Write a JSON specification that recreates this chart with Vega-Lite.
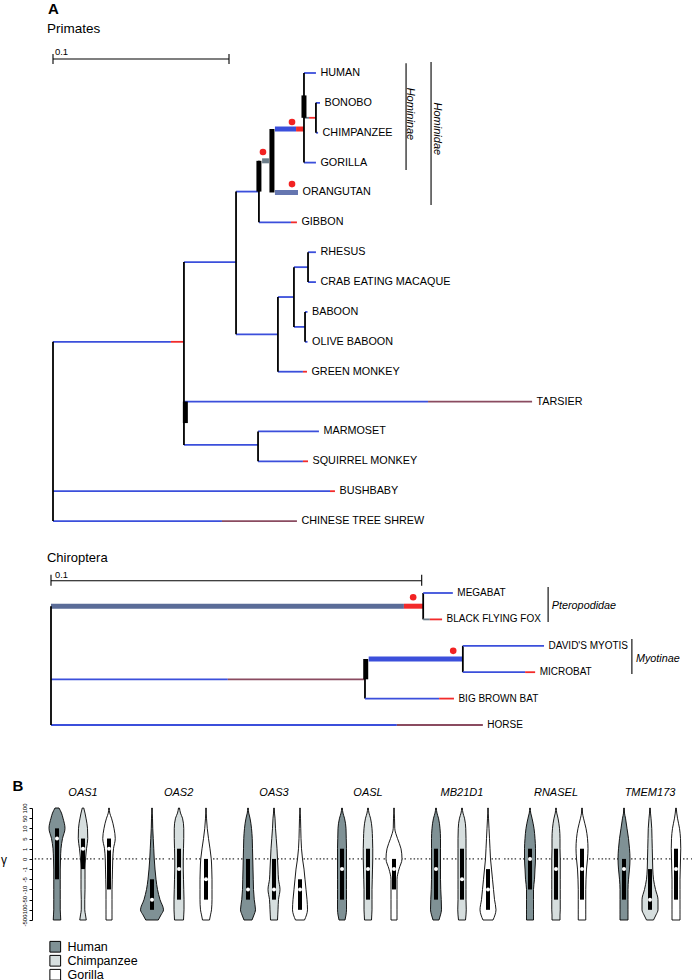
{
"$schema":"https://vega.github.io/schema/vega-lite/v6.json",
"padding":0,
"spacing":19,
"datasets":{
"prim":[
{"k":"s","x":0,"x2":0.067,"y":9,"y2":9,"cat":"purifying","w":"normal"},
{"k":"s","x":0.067,"x2":0.0744,"y":9,"y2":9,"cat":"positive","w":"normal"},
{"k":"s","x":0.0744,"x2":0.104,"y":6.33,"y2":6.33,"cat":"purifying","w":"normal"},
{"k":"s","x":0.0744,"x2":0.2131,"y":11,"y2":11,"cat":"purifying","w":"normal"},
{"k":"s","x":0.2131,"x2":0.2722,"y":11,"y2":11,"cat":"relaxed","w":"normal"},
{"k":"s","x":0.0744,"x2":0.1165,"y":12.45,"y2":12.45,"cat":"purifying","w":"normal"},
{"k":"s","x":0.1165,"x2":0.1511,"y":12,"y2":12,"cat":"purifying","w":"normal"},
{"k":"s","x":0.1165,"x2":0.142,"y":13,"y2":13,"cat":"purifying","w":"normal"},
{"k":"s","x":0.142,"x2":0.1449,"y":13,"y2":13,"cat":"positive","w":"normal"},
{"k":"s","x":0,"x2":0.1574,"y":14,"y2":14,"cat":"purifying","w":"normal"},
{"k":"s","x":0.1574,"x2":0.1602,"y":14,"y2":14,"cat":"positive","w":"normal"},
{"k":"s","x":0,"x2":0.096,"y":15,"y2":15,"cat":"purifying","w":"normal"},
{"k":"s","x":0.096,"x2":0.1386,"y":15,"y2":15,"cat":"relaxed","w":"normal"},
{"k":"s","x":0.104,"x2":0.1278,"y":8.75,"y2":8.75,"cat":"purifying","w":"normal"},
{"k":"s","x":0.1278,"x2":0.142,"y":10,"y2":10,"cat":"purifying","w":"normal"},
{"k":"s","x":0.142,"x2":0.1443,"y":10,"y2":10,"cat":"positive","w":"normal"},
{"k":"s","x":0.1278,"x2":0.1369,"y":7.5,"y2":7.5,"cat":"purifying","w":"normal"},
{"k":"s","x":0.1369,"x2":0.1449,"y":6.5,"y2":6.5,"cat":"purifying","w":"normal"},
{"k":"s","x":0.1449,"x2":0.1494,"y":6,"y2":6,"cat":"purifying","w":"normal"},
{"k":"s","x":0.1449,"x2":0.1494,"y":7,"y2":7,"cat":"purifying","w":"normal"},
{"k":"s","x":0.1369,"x2":0.1432,"y":8.5,"y2":8.5,"cat":"purifying","w":"normal"},
{"k":"s","x":0.1432,"x2":0.1446,"y":8,"y2":8,"cat":"purifying","w":"normal"},
{"k":"s","x":0.1432,"x2":0.1446,"y":9,"y2":9,"cat":"purifying","w":"normal"},
{"k":"s","x":0.104,"x2":0.117,"y":3.97,"y2":3.97,"cat":"purifying","w":"normal"},
{"k":"s","x":0.117,"x2":0.1352,"y":5,"y2":5,"cat":"purifying","w":"normal"},
{"k":"s","x":0.1352,"x2":0.1386,"y":5,"y2":5,"cat":"positive","w":"normal"},
{"k":"s","x":0.1188,"x2":0.1227,"y":2.94,"y2":2.94,"cat":"intermediate","w":"bold"},
{"k":"s","x":0.1261,"x2":0.1381,"y":1.875,"y2":1.875,"cat":"purifying","w":"bold"},
{"k":"s","x":0.1381,"x2":0.1426,"y":1.875,"y2":1.875,"cat":"positive","w":"bold"},
{"k":"s","x":0.1261,"x2":0.1392,"y":4,"y2":4,"cat":"moderate","w":"bold"},
{"k":"s","x":0.1426,"x2":0.1494,"y":0,"y2":0,"cat":"purifying","w":"normal"},
{"k":"s","x":0.1426,"x2":0.1455,"y":1.5,"y2":1.5,"cat":"intermediate","w":"normal"},
{"k":"s","x":0.1455,"x2":0.1494,"y":1.5,"y2":1.5,"cat":"positive","w":"normal"},
{"k":"s","x":0.1494,"x2":0.1517,"y":1,"y2":1,"cat":"purifying","w":"normal"},
{"k":"s","x":0.1494,"x2":0.1506,"y":2,"y2":2,"cat":"purifying","w":"normal"},
{"k":"s","x":0.1426,"x2":0.1494,"y":3,"y2":3,"cat":"purifying","w":"normal"},
{"k":"s","x":0,"x2":0,"y":9,"y2":15,"cat":"node","w":"normal"},
{"k":"s","x":0.0744,"x2":0.0744,"y":6.33,"y2":12.45,"cat":"node","w":"normal"},
{"k":"s","x":0.0752,"x2":0.0752,"y":11,"y2":11.72,"cat":"node","w":"bold"},
{"k":"s","x":0.104,"x2":0.104,"y":3.97,"y2":8.75,"cat":"node","w":"normal"},
{"k":"s","x":0.1165,"x2":0.1165,"y":12,"y2":13,"cat":"node","w":"normal"},
{"k":"s","x":0.1278,"x2":0.1278,"y":7.5,"y2":10,"cat":"node","w":"normal"},
{"k":"s","x":0.1369,"x2":0.1369,"y":6.5,"y2":8.5,"cat":"node","w":"normal"},
{"k":"s","x":0.1449,"x2":0.1449,"y":6,"y2":7,"cat":"node","w":"normal"},
{"k":"s","x":0.1432,"x2":0.1432,"y":8,"y2":9,"cat":"node","w":"normal"},
{"k":"s","x":0.117,"x2":0.117,"y":2.94,"y2":5,"cat":"node","w":"normal"},
{"k":"s","x":0.117,"x2":0.117,"y":2.94,"y2":3.97,"cat":"node","w":"bold"},
{"k":"s","x":0.1244,"x2":0.1244,"y":1.875,"y2":4,"cat":"node","w":"bold"},
{"k":"s","x":0.1426,"x2":0.1426,"y":0,"y2":3,"cat":"node","w":"normal"},
{"k":"s","x":0.1426,"x2":0.1426,"y":0.75,"y2":1.5,"cat":"node","w":"bold"},
{"k":"s","x":0.1494,"x2":0.1494,"y":1,"y2":2,"cat":"node","w":"normal"},
{"k":"b","x":0.2006,"x2":0.2006,"y":-0.33,"y2":3.25},
{"k":"b","x":0.2148,"x2":0.2148,"y":-0.37,"y2":4.42},
{"k":"b","x":0,"x2":0.1,"y":-0.469,"y2":-0.469},
{"k":"b","x":0,"x2":0,"y":-0.64,"y2":-0.3},
{"k":"b","x":0.1,"x2":0.1,"y":-0.64,"y2":-0.3},
{"k":"d","x":0.1193,"y":2.645},
{"k":"d","x":0.1358,"y":1.64},
{"k":"d","x":0.1358,"y":3.72},
{"k":"t","x":0.1494,"y":0,"label":"HUMAN"},
{"k":"t","x":0.1517,"y":1,"label":"BONOBO"},
{"k":"t","x":0.1506,"y":2,"label":"CHIMPANZEE"},
{"k":"t","x":0.1494,"y":3,"label":"GORILLA"},
{"k":"t","x":0.1392,"y":4,"label":"ORANGUTAN"},
{"k":"t","x":0.1386,"y":5,"label":"GIBBON"},
{"k":"t","x":0.1494,"y":6,"label":"RHESUS"},
{"k":"t","x":0.1494,"y":7,"label":"CRAB EATING MACAQUE"},
{"k":"t","x":0.1446,"y":8,"label":"BABOON"},
{"k":"t","x":0.1446,"y":9,"label":"OLIVE BABOON"},
{"k":"t","x":0.1443,"y":10,"label":"GREEN MONKEY"},
{"k":"t","x":0.2722,"y":11,"label":"TARSIER"},
{"k":"t","x":0.1511,"y":12,"label":"MARMOSET"},
{"k":"t","x":0.1449,"y":13,"label":"SQUIRREL MONKEY"},
{"k":"t","x":0.1602,"y":14,"label":"BUSHBABY"},
{"k":"t","x":0.1386,"y":15,"label":"CHINESE TREE SHREW"},
{"k":"c","x":0.2014,"y":1.37,"label":"Homininae"},
{"k":"c","x":0.2162,"y":1.87,"label":"Hominidae"},
{"k":"sl","x":0.0011,"y":-0.6,"label":"0.1"},
{"k":"pl","x":-0.0028,"y":-1.975,"label":"A"},
{"k":"h","x":-0.0034,"y":-1.33,"label":"Primates"}
],
"bats":[
{"k":"s","x":0,"x2":0.0952,"y":0.5,"y2":0.5,"cat":"elevated","w":"bold"},
{"k":"s","x":0.0952,"x2":0.1004,"y":0.5,"y2":0.5,"cat":"positive","w":"bold"},
{"k":"s","x":0.1004,"x2":0.1004,"y":0,"y2":1,"cat":"node","w":"normal"},
{"k":"s","x":0.1004,"x2":0.1084,"y":0,"y2":0,"cat":"purifying","w":"normal"},
{"k":"s","x":0.1004,"x2":0.1022,"y":1,"y2":1,"cat":"intermediate","w":"normal"},
{"k":"s","x":0.1022,"x2":0.1055,"y":1,"y2":1,"cat":"positive","w":"normal"},
{"k":"s","x":0,"x2":0.0477,"y":3.27,"y2":3.27,"cat":"purifying","w":"normal"},
{"k":"s","x":0.0477,"x2":0.0847,"y":3.27,"y2":3.27,"cat":"relaxed","w":"normal"},
{"k":"s","x":0.0847,"x2":0.0847,"y":2.5,"y2":4,"cat":"node","w":"normal"},
{"k":"s","x":0.0849,"x2":0.0849,"y":2.5,"y2":3.27,"cat":"node","w":"bold"},
{"k":"s","x":0.0857,"x2":0.1111,"y":2.5,"y2":2.5,"cat":"purifying","w":"bold"},
{"k":"s","x":0.1111,"x2":0.1111,"y":2,"y2":3,"cat":"node","w":"normal"},
{"k":"s","x":0.1111,"x2":0.133,"y":2,"y2":2,"cat":"purifying","w":"normal"},
{"k":"s","x":0.1111,"x2":0.1279,"y":3,"y2":3,"cat":"purifying","w":"normal"},
{"k":"s","x":0.1279,"x2":0.1306,"y":3,"y2":3,"cat":"positive","w":"normal"},
{"k":"s","x":0.0847,"x2":0.1047,"y":4,"y2":4,"cat":"purifying","w":"normal"},
{"k":"s","x":0.1047,"x2":0.1087,"y":4,"y2":4,"cat":"positive","w":"normal"},
{"k":"s","x":0,"x2":0.0933,"y":5,"y2":5,"cat":"purifying","w":"normal"},
{"k":"s","x":0.0933,"x2":0.1165,"y":5,"y2":5,"cat":"relaxed","w":"normal"},
{"k":"s","x":0,"x2":0,"y":0.5,"y2":5,"cat":"node","w":"normal"},
{"k":"b","x":0.1341,"x2":0.1341,"y":-0.23,"y2":1.1},
{"k":"b","x":0.1567,"x2":0.1567,"y":1.74,"y2":3.07},
{"k":"b","x":0,"x2":0.1,"y":-0.466,"y2":-0.466},
{"k":"b","x":0,"x2":0,"y":-0.69,"y2":-0.27},
{"k":"b","x":0.1,"x2":0.1,"y":-0.69,"y2":-0.27},
{"k":"d","x":0.0977,"y":0.16},
{"k":"d","x":0.1085,"y":2.19},
{"k":"t","x":0.1084,"y":0,"label":"MEGABAT"},
{"k":"t","x":0.1055,"y":1,"label":"BLACK FLYING FOX"},
{"k":"t","x":0.133,"y":2,"label":"DAVID'S MYOTIS"},
{"k":"t","x":0.1306,"y":3,"label":"MICROBAT"},
{"k":"t","x":0.1087,"y":4,"label":"BIG BROWN BAT"},
{"k":"t","x":0.1165,"y":5,"label":"HORSE"},
{"k":"c","x":0.1351,"y":0.49,"label":"Pteropodidae"},
{"k":"c","x":0.1578,"y":2.5,"label":"Myotinae"},
{"k":"sl","x":0.0011,"y":-0.57,"label":"0.1"},
{"k":"h","x":-0.0011,"y":-1.17,"label":"Chiroptera"}
],
"vio":[
{"k":"box","g":"OAS1","s":"Human","q1":-2,"q3":3,"med":2},
{"k":"box","g":"OAS1","s":"Chimpanzee","q1":-1,"q3":2,"med":1},
{"k":"box","g":"OAS1","s":"Gorilla","q1":-3,"q3":2,"med":1},
{"k":"box","g":"OAS2","s":"Human","q1":-5,"q3":-2,"med":-4},
{"k":"box","g":"OAS2","s":"Chimpanzee","q1":-4,"q3":1,"med":-1},
{"k":"box","g":"OAS2","s":"Gorilla","q1":-4,"q3":0,"med":-2},
{"k":"box","g":"OAS3","s":"Human","q1":-4,"q3":0,"med":-3},
{"k":"box","g":"OAS3","s":"Chimpanzee","q1":-4,"q3":0,"med":-3},
{"k":"box","g":"OAS3","s":"Gorilla","q1":-5,"q3":-2,"med":-3},
{"k":"box","g":"OASL","s":"Human","q1":-4,"q3":1,"med":-1},
{"k":"box","g":"OASL","s":"Chimpanzee","q1":-4,"q3":1,"med":-1},
{"k":"box","g":"OASL","s":"Gorilla","q1":-3,"q3":0,"med":-1},
{"k":"box","g":"MB21D1","s":"Human","q1":-4,"q3":1,"med":-1},
{"k":"box","g":"MB21D1","s":"Chimpanzee","q1":-4,"q3":1,"med":-2},
{"k":"box","g":"MB21D1","s":"Gorilla","q1":-5,"q3":-1,"med":-3},
{"k":"box","g":"RNASEL","s":"Human","q1":-3,"q3":1,"med":0},
{"k":"box","g":"RNASEL","s":"Chimpanzee","q1":-4,"q3":1,"med":-1},
{"k":"box","g":"RNASEL","s":"Gorilla","q1":-4,"q3":1,"med":-1},
{"k":"box","g":"TMEM173","s":"Human","q1":-4,"q3":0,"med":-1},
{"k":"box","g":"TMEM173","s":"Chimpanzee","q1":-5,"q3":-1,"med":-4},
{"k":"box","g":"TMEM173","s":"Gorilla","q1":-4,"q3":1,"med":-1},
{"k":"p","g":"OAS1","s":"Human","v":5,"lo":-2,"hi":2},{"k":"p","g":"OAS1","s":"Human","v":4.5,"lo":-4.5,"hi":4.5},{"k":"p","g":"OAS1","s":"Human","v":4,"lo":-6,"hi":6},{"k":"p","g":"OAS1","s":"Human","v":3,"lo":-8,"hi":8},{"k":"p","g":"OAS1","s":"Human","v":2,"lo":-5.5,"hi":5.5},{"k":"p","g":"OAS1","s":"Human","v":1,"lo":-4,"hi":4},{"k":"p","g":"OAS1","s":"Human","v":0,"lo":-3.5,"hi":3.5},{"k":"p","g":"OAS1","s":"Human","v":-1,"lo":-3.25,"hi":3.25},{"k":"p","g":"OAS1","s":"Human","v":-2,"lo":-3.25,"hi":3.25},{"k":"p","g":"OAS1","s":"Human","v":-3,"lo":-3.25,"hi":3.25},{"k":"p","g":"OAS1","s":"Human","v":-4,"lo":-3.25,"hi":3.25},{"k":"p","g":"OAS1","s":"Human","v":-5,"lo":-3.25,"hi":3.25},{"k":"p","g":"OAS1","s":"Human","v":-5.5,"lo":-3.5,"hi":3.5},{"k":"p","g":"OAS1","s":"Human","v":-6,"lo":-3.75,"hi":3.75},
{"k":"p","g":"OAS1","s":"Chimpanzee","v":5,"lo":-0.75,"hi":0.75},{"k":"p","g":"OAS1","s":"Chimpanzee","v":4.5,"lo":-2,"hi":2},{"k":"p","g":"OAS1","s":"Chimpanzee","v":4,"lo":-3,"hi":3},{"k":"p","g":"OAS1","s":"Chimpanzee","v":3,"lo":-4.5,"hi":4.5},{"k":"p","g":"OAS1","s":"Chimpanzee","v":2,"lo":-4.75,"hi":4.75},{"k":"p","g":"OAS1","s":"Chimpanzee","v":1,"lo":-3.5,"hi":3.5},{"k":"p","g":"OAS1","s":"Chimpanzee","v":0,"lo":-2.5,"hi":2.5},{"k":"p","g":"OAS1","s":"Chimpanzee","v":-1,"lo":-2,"hi":2},{"k":"p","g":"OAS1","s":"Chimpanzee","v":-2,"lo":-2,"hi":2},{"k":"p","g":"OAS1","s":"Chimpanzee","v":-3,"lo":-2,"hi":2},{"k":"p","g":"OAS1","s":"Chimpanzee","v":-4,"lo":-1.75,"hi":1.75},{"k":"p","g":"OAS1","s":"Chimpanzee","v":-5,"lo":-1.75,"hi":1.75},{"k":"p","g":"OAS1","s":"Chimpanzee","v":-5.5,"lo":-2.5,"hi":2.5},{"k":"p","g":"OAS1","s":"Chimpanzee","v":-6,"lo":-3.25,"hi":3.25},
{"k":"p","g":"OAS1","s":"Gorilla","v":5,"lo":-0.25,"hi":0.25},{"k":"p","g":"OAS1","s":"Gorilla","v":4.5,"lo":-0.75,"hi":0.75},{"k":"p","g":"OAS1","s":"Gorilla","v":4,"lo":-2.5,"hi":2.5},{"k":"p","g":"OAS1","s":"Gorilla","v":3,"lo":-5,"hi":5},{"k":"p","g":"OAS1","s":"Gorilla","v":2,"lo":-6.25,"hi":6.25},{"k":"p","g":"OAS1","s":"Gorilla","v":1,"lo":-4.5,"hi":4.5},{"k":"p","g":"OAS1","s":"Gorilla","v":0,"lo":-3.75,"hi":3.75},{"k":"p","g":"OAS1","s":"Gorilla","v":-1,"lo":-3.5,"hi":3.5},{"k":"p","g":"OAS1","s":"Gorilla","v":-2,"lo":-3.25,"hi":3.25},{"k":"p","g":"OAS1","s":"Gorilla","v":-3,"lo":-3,"hi":3},{"k":"p","g":"OAS1","s":"Gorilla","v":-4,"lo":-3,"hi":3},{"k":"p","g":"OAS1","s":"Gorilla","v":-5,"lo":-3,"hi":3},{"k":"p","g":"OAS1","s":"Gorilla","v":-5.5,"lo":-3,"hi":3},{"k":"p","g":"OAS1","s":"Gorilla","v":-6,"lo":-3,"hi":3},
{"k":"p","g":"OAS2","s":"Human","v":5,"lo":-0.25,"hi":0.25},{"k":"p","g":"OAS2","s":"Human","v":4.5,"lo":-0.25,"hi":0.25},{"k":"p","g":"OAS2","s":"Human","v":4,"lo":-0.5,"hi":0.5},{"k":"p","g":"OAS2","s":"Human","v":3,"lo":-0.75,"hi":0.75},{"k":"p","g":"OAS2","s":"Human","v":2,"lo":-1.25,"hi":1.25},{"k":"p","g":"OAS2","s":"Human","v":1,"lo":-1.75,"hi":1.75},{"k":"p","g":"OAS2","s":"Human","v":0,"lo":-2.25,"hi":2.25},{"k":"p","g":"OAS2","s":"Human","v":-1,"lo":-3,"hi":3},{"k":"p","g":"OAS2","s":"Human","v":-2,"lo":-4,"hi":4},{"k":"p","g":"OAS2","s":"Human","v":-3,"lo":-5.5,"hi":5.5},{"k":"p","g":"OAS2","s":"Human","v":-4,"lo":-8,"hi":8},{"k":"p","g":"OAS2","s":"Human","v":-5,"lo":-11.5,"hi":11.5},{"k":"p","g":"OAS2","s":"Human","v":-5.5,"lo":-9,"hi":9},{"k":"p","g":"OAS2","s":"Human","v":-6,"lo":-6.25,"hi":6.25},
{"k":"p","g":"OAS2","s":"Chimpanzee","v":5,"lo":-0.5,"hi":0.5},{"k":"p","g":"OAS2","s":"Chimpanzee","v":4.5,"lo":-1.5,"hi":1.5},{"k":"p","g":"OAS2","s":"Chimpanzee","v":4,"lo":-3.5,"hi":3.5},{"k":"p","g":"OAS2","s":"Chimpanzee","v":3,"lo":-4.75,"hi":4.75},{"k":"p","g":"OAS2","s":"Chimpanzee","v":2,"lo":-4.75,"hi":4.75},{"k":"p","g":"OAS2","s":"Chimpanzee","v":1,"lo":-4.5,"hi":4.5},{"k":"p","g":"OAS2","s":"Chimpanzee","v":0,"lo":-4.25,"hi":4.25},{"k":"p","g":"OAS2","s":"Chimpanzee","v":-1,"lo":-4.25,"hi":4.25},{"k":"p","g":"OAS2","s":"Chimpanzee","v":-2,"lo":-4.5,"hi":4.5},{"k":"p","g":"OAS2","s":"Chimpanzee","v":-3,"lo":-4.75,"hi":4.75},{"k":"p","g":"OAS2","s":"Chimpanzee","v":-4,"lo":-5,"hi":5},{"k":"p","g":"OAS2","s":"Chimpanzee","v":-5,"lo":-5,"hi":5},{"k":"p","g":"OAS2","s":"Chimpanzee","v":-5.5,"lo":-4.75,"hi":4.75},{"k":"p","g":"OAS2","s":"Chimpanzee","v":-6,"lo":-4.5,"hi":4.5},
{"k":"p","g":"OAS2","s":"Gorilla","v":5,"lo":-0.25,"hi":0.25},{"k":"p","g":"OAS2","s":"Gorilla","v":4.5,"lo":-0.25,"hi":0.25},{"k":"p","g":"OAS2","s":"Gorilla","v":4,"lo":-0.5,"hi":0.5},{"k":"p","g":"OAS2","s":"Gorilla","v":3,"lo":-1.25,"hi":1.25},{"k":"p","g":"OAS2","s":"Gorilla","v":2,"lo":-2.5,"hi":2.5},{"k":"p","g":"OAS2","s":"Gorilla","v":1,"lo":-4,"hi":4},{"k":"p","g":"OAS2","s":"Gorilla","v":0,"lo":-5.25,"hi":5.25},{"k":"p","g":"OAS2","s":"Gorilla","v":-1,"lo":-5.75,"hi":5.75},{"k":"p","g":"OAS2","s":"Gorilla","v":-2,"lo":-6,"hi":6},{"k":"p","g":"OAS2","s":"Gorilla","v":-3,"lo":-6,"hi":6},{"k":"p","g":"OAS2","s":"Gorilla","v":-4,"lo":-6,"hi":6},{"k":"p","g":"OAS2","s":"Gorilla","v":-5,"lo":-5.5,"hi":5.5},{"k":"p","g":"OAS2","s":"Gorilla","v":-5.5,"lo":-4.5,"hi":4.5},{"k":"p","g":"OAS2","s":"Gorilla","v":-6,"lo":-3.5,"hi":3.5},
{"k":"p","g":"OAS3","s":"Human","v":5,"lo":-0.25,"hi":0.25},{"k":"p","g":"OAS3","s":"Human","v":4.5,"lo":-0.75,"hi":0.75},{"k":"p","g":"OAS3","s":"Human","v":4,"lo":-2,"hi":2},{"k":"p","g":"OAS3","s":"Human","v":3,"lo":-3.5,"hi":3.5},{"k":"p","g":"OAS3","s":"Human","v":2,"lo":-4.25,"hi":4.25},{"k":"p","g":"OAS3","s":"Human","v":1,"lo":-4.5,"hi":4.5},{"k":"p","g":"OAS3","s":"Human","v":0,"lo":-4.75,"hi":4.75},{"k":"p","g":"OAS3","s":"Human","v":-1,"lo":-5,"hi":5},{"k":"p","g":"OAS3","s":"Human","v":-2,"lo":-5.25,"hi":5.25},{"k":"p","g":"OAS3","s":"Human","v":-3,"lo":-5.5,"hi":5.5},{"k":"p","g":"OAS3","s":"Human","v":-4,"lo":-6.25,"hi":6.25},{"k":"p","g":"OAS3","s":"Human","v":-5,"lo":-7.5,"hi":7.5},{"k":"p","g":"OAS3","s":"Human","v":-5.5,"lo":-6,"hi":6},{"k":"p","g":"OAS3","s":"Human","v":-6,"lo":-4,"hi":4},
{"k":"p","g":"OAS3","s":"Chimpanzee","v":5,"lo":-0.25,"hi":0.25},{"k":"p","g":"OAS3","s":"Chimpanzee","v":4.5,"lo":-0.5,"hi":0.5},{"k":"p","g":"OAS3","s":"Chimpanzee","v":4,"lo":-1,"hi":1},{"k":"p","g":"OAS3","s":"Chimpanzee","v":3,"lo":-1.5,"hi":1.5},{"k":"p","g":"OAS3","s":"Chimpanzee","v":2,"lo":-2.25,"hi":2.25},{"k":"p","g":"OAS3","s":"Chimpanzee","v":1,"lo":-3,"hi":3},{"k":"p","g":"OAS3","s":"Chimpanzee","v":0,"lo":-3.5,"hi":3.5},{"k":"p","g":"OAS3","s":"Chimpanzee","v":-1,"lo":-4,"hi":4},{"k":"p","g":"OAS3","s":"Chimpanzee","v":-2,"lo":-4.5,"hi":4.5},{"k":"p","g":"OAS3","s":"Chimpanzee","v":-3,"lo":-6,"hi":6},{"k":"p","g":"OAS3","s":"Chimpanzee","v":-4,"lo":-4.5,"hi":4.5},{"k":"p","g":"OAS3","s":"Chimpanzee","v":-5,"lo":-4,"hi":4},{"k":"p","g":"OAS3","s":"Chimpanzee","v":-5.5,"lo":-3.75,"hi":3.75},{"k":"p","g":"OAS3","s":"Chimpanzee","v":-6,"lo":-3.5,"hi":3.5},
{"k":"p","g":"OAS3","s":"Gorilla","v":5,"lo":-0.25,"hi":0.25},{"k":"p","g":"OAS3","s":"Gorilla","v":4.5,"lo":-0.25,"hi":0.25},{"k":"p","g":"OAS3","s":"Gorilla","v":4,"lo":-0.5,"hi":0.5},{"k":"p","g":"OAS3","s":"Gorilla","v":3,"lo":-0.75,"hi":0.75},{"k":"p","g":"OAS3","s":"Gorilla","v":2,"lo":-1,"hi":1},{"k":"p","g":"OAS3","s":"Gorilla","v":1,"lo":-1.5,"hi":1.5},{"k":"p","g":"OAS3","s":"Gorilla","v":0,"lo":-2.5,"hi":2.5},{"k":"p","g":"OAS3","s":"Gorilla","v":-1,"lo":-4,"hi":4},{"k":"p","g":"OAS3","s":"Gorilla","v":-2,"lo":-5,"hi":5},{"k":"p","g":"OAS3","s":"Gorilla","v":-3,"lo":-6,"hi":6},{"k":"p","g":"OAS3","s":"Gorilla","v":-4,"lo":-7,"hi":7},{"k":"p","g":"OAS3","s":"Gorilla","v":-5,"lo":-7.5,"hi":7.5},{"k":"p","g":"OAS3","s":"Gorilla","v":-5.5,"lo":-6.5,"hi":6.5},{"k":"p","g":"OAS3","s":"Gorilla","v":-6,"lo":-4.5,"hi":4.5},
{"k":"p","g":"OASL","s":"Human","v":5,"lo":-0.25,"hi":0.25},{"k":"p","g":"OASL","s":"Human","v":4.5,"lo":-1,"hi":1},{"k":"p","g":"OASL","s":"Human","v":4,"lo":-2.5,"hi":2.5},{"k":"p","g":"OASL","s":"Human","v":3,"lo":-4,"hi":4},{"k":"p","g":"OASL","s":"Human","v":2,"lo":-4.25,"hi":4.25},{"k":"p","g":"OASL","s":"Human","v":1,"lo":-4.5,"hi":4.5},{"k":"p","g":"OASL","s":"Human","v":0,"lo":-4.5,"hi":4.5},{"k":"p","g":"OASL","s":"Human","v":-1,"lo":-4.5,"hi":4.5},{"k":"p","g":"OASL","s":"Human","v":-2,"lo":-4.5,"hi":4.5},{"k":"p","g":"OASL","s":"Human","v":-3,"lo":-4.5,"hi":4.5},{"k":"p","g":"OASL","s":"Human","v":-4,"lo":-4.5,"hi":4.5},{"k":"p","g":"OASL","s":"Human","v":-5,"lo":-4.5,"hi":4.5},{"k":"p","g":"OASL","s":"Human","v":-5.5,"lo":-4,"hi":4},{"k":"p","g":"OASL","s":"Human","v":-6,"lo":-3,"hi":3},
{"k":"p","g":"OASL","s":"Chimpanzee","v":5,"lo":-0.25,"hi":0.25},{"k":"p","g":"OASL","s":"Chimpanzee","v":4.5,"lo":-1,"hi":1},{"k":"p","g":"OASL","s":"Chimpanzee","v":4,"lo":-2.5,"hi":2.5},{"k":"p","g":"OASL","s":"Chimpanzee","v":3,"lo":-4,"hi":4},{"k":"p","g":"OASL","s":"Chimpanzee","v":2,"lo":-4.5,"hi":4.5},{"k":"p","g":"OASL","s":"Chimpanzee","v":1,"lo":-4.75,"hi":4.75},{"k":"p","g":"OASL","s":"Chimpanzee","v":0,"lo":-4.75,"hi":4.75},{"k":"p","g":"OASL","s":"Chimpanzee","v":-1,"lo":-4.5,"hi":4.5},{"k":"p","g":"OASL","s":"Chimpanzee","v":-2,"lo":-4.25,"hi":4.25},{"k":"p","g":"OASL","s":"Chimpanzee","v":-3,"lo":-4,"hi":4},{"k":"p","g":"OASL","s":"Chimpanzee","v":-4,"lo":-4,"hi":4},{"k":"p","g":"OASL","s":"Chimpanzee","v":-5,"lo":-4,"hi":4},{"k":"p","g":"OASL","s":"Chimpanzee","v":-5.5,"lo":-3.75,"hi":3.75},{"k":"p","g":"OASL","s":"Chimpanzee","v":-6,"lo":-3.5,"hi":3.5},
{"k":"p","g":"OASL","s":"Gorilla","v":5,"lo":-0.25,"hi":0.25},{"k":"p","g":"OASL","s":"Gorilla","v":4.5,"lo":-0.25,"hi":0.25},{"k":"p","g":"OASL","s":"Gorilla","v":4,"lo":-0.5,"hi":0.5},{"k":"p","g":"OASL","s":"Gorilla","v":3,"lo":-0.75,"hi":0.75},{"k":"p","g":"OASL","s":"Gorilla","v":2,"lo":-3.5,"hi":3.5},{"k":"p","g":"OASL","s":"Gorilla","v":1,"lo":-7,"hi":7},{"k":"p","g":"OASL","s":"Gorilla","v":0,"lo":-8,"hi":8},{"k":"p","g":"OASL","s":"Gorilla","v":-1,"lo":-5,"hi":5},{"k":"p","g":"OASL","s":"Gorilla","v":-2,"lo":-3,"hi":3},{"k":"p","g":"OASL","s":"Gorilla","v":-3,"lo":-3,"hi":3},{"k":"p","g":"OASL","s":"Gorilla","v":-4,"lo":-3,"hi":3},{"k":"p","g":"OASL","s":"Gorilla","v":-5,"lo":-3,"hi":3},{"k":"p","g":"OASL","s":"Gorilla","v":-5.5,"lo":-3,"hi":3},{"k":"p","g":"OASL","s":"Gorilla","v":-6,"lo":-3,"hi":3},
{"k":"p","g":"MB21D1","s":"Human","v":5,"lo":-0.25,"hi":0.25},{"k":"p","g":"MB21D1","s":"Human","v":4.5,"lo":-1,"hi":1},{"k":"p","g":"MB21D1","s":"Human","v":4,"lo":-2.5,"hi":2.5},{"k":"p","g":"MB21D1","s":"Human","v":3,"lo":-4,"hi":4},{"k":"p","g":"MB21D1","s":"Human","v":2,"lo":-4.5,"hi":4.5},{"k":"p","g":"MB21D1","s":"Human","v":1,"lo":-4.5,"hi":4.5},{"k":"p","g":"MB21D1","s":"Human","v":0,"lo":-4.5,"hi":4.5},{"k":"p","g":"MB21D1","s":"Human","v":-1,"lo":-4.5,"hi":4.5},{"k":"p","g":"MB21D1","s":"Human","v":-2,"lo":-4.5,"hi":4.5},{"k":"p","g":"MB21D1","s":"Human","v":-3,"lo":-4.75,"hi":4.75},{"k":"p","g":"MB21D1","s":"Human","v":-4,"lo":-5.25,"hi":5.25},{"k":"p","g":"MB21D1","s":"Human","v":-5,"lo":-5.5,"hi":5.5},{"k":"p","g":"MB21D1","s":"Human","v":-5.5,"lo":-4.5,"hi":4.5},{"k":"p","g":"MB21D1","s":"Human","v":-6,"lo":-3,"hi":3},
{"k":"p","g":"MB21D1","s":"Chimpanzee","v":5,"lo":-0.25,"hi":0.25},{"k":"p","g":"MB21D1","s":"Chimpanzee","v":4.5,"lo":-1,"hi":1},{"k":"p","g":"MB21D1","s":"Chimpanzee","v":4,"lo":-2.5,"hi":2.5},{"k":"p","g":"MB21D1","s":"Chimpanzee","v":3,"lo":-3.75,"hi":3.75},{"k":"p","g":"MB21D1","s":"Chimpanzee","v":2,"lo":-4,"hi":4},{"k":"p","g":"MB21D1","s":"Chimpanzee","v":1,"lo":-4,"hi":4},{"k":"p","g":"MB21D1","s":"Chimpanzee","v":0,"lo":-4,"hi":4},{"k":"p","g":"MB21D1","s":"Chimpanzee","v":-1,"lo":-4,"hi":4},{"k":"p","g":"MB21D1","s":"Chimpanzee","v":-2,"lo":-4,"hi":4},{"k":"p","g":"MB21D1","s":"Chimpanzee","v":-3,"lo":-4,"hi":4},{"k":"p","g":"MB21D1","s":"Chimpanzee","v":-4,"lo":-4,"hi":4},{"k":"p","g":"MB21D1","s":"Chimpanzee","v":-5,"lo":-4.25,"hi":4.25},{"k":"p","g":"MB21D1","s":"Chimpanzee","v":-5.5,"lo":-4,"hi":4},{"k":"p","g":"MB21D1","s":"Chimpanzee","v":-6,"lo":-3.5,"hi":3.5},
{"k":"p","g":"MB21D1","s":"Gorilla","v":5,"lo":-0.25,"hi":0.25},{"k":"p","g":"MB21D1","s":"Gorilla","v":4.5,"lo":-0.25,"hi":0.25},{"k":"p","g":"MB21D1","s":"Gorilla","v":4,"lo":-0.5,"hi":0.5},{"k":"p","g":"MB21D1","s":"Gorilla","v":3,"lo":-1,"hi":1},{"k":"p","g":"MB21D1","s":"Gorilla","v":2,"lo":-1.5,"hi":1.5},{"k":"p","g":"MB21D1","s":"Gorilla","v":1,"lo":-2,"hi":2},{"k":"p","g":"MB21D1","s":"Gorilla","v":0,"lo":-2.5,"hi":2.5},{"k":"p","g":"MB21D1","s":"Gorilla","v":-1,"lo":-3.5,"hi":3.5},{"k":"p","g":"MB21D1","s":"Gorilla","v":-2,"lo":-4.5,"hi":4.5},{"k":"p","g":"MB21D1","s":"Gorilla","v":-3,"lo":-5.5,"hi":5.5},{"k":"p","g":"MB21D1","s":"Gorilla","v":-4,"lo":-6.5,"hi":6.5},{"k":"p","g":"MB21D1","s":"Gorilla","v":-5,"lo":-8,"hi":8},{"k":"p","g":"MB21D1","s":"Gorilla","v":-5.5,"lo":-7,"hi":7},{"k":"p","g":"MB21D1","s":"Gorilla","v":-6,"lo":-5,"hi":5},
{"k":"p","g":"RNASEL","s":"Human","v":5,"lo":-0.25,"hi":0.25},{"k":"p","g":"RNASEL","s":"Human","v":4.5,"lo":-0.75,"hi":0.75},{"k":"p","g":"RNASEL","s":"Human","v":4,"lo":-2,"hi":2},{"k":"p","g":"RNASEL","s":"Human","v":3,"lo":-4,"hi":4},{"k":"p","g":"RNASEL","s":"Human","v":2,"lo":-5,"hi":5},{"k":"p","g":"RNASEL","s":"Human","v":1,"lo":-5.5,"hi":5.5},{"k":"p","g":"RNASEL","s":"Human","v":0,"lo":-5.5,"hi":5.5},{"k":"p","g":"RNASEL","s":"Human","v":-1,"lo":-5,"hi":5},{"k":"p","g":"RNASEL","s":"Human","v":-2,"lo":-4.5,"hi":4.5},{"k":"p","g":"RNASEL","s":"Human","v":-3,"lo":-3.5,"hi":3.5},{"k":"p","g":"RNASEL","s":"Human","v":-4,"lo":-3.5,"hi":3.5},{"k":"p","g":"RNASEL","s":"Human","v":-5,"lo":-3.5,"hi":3.5},{"k":"p","g":"RNASEL","s":"Human","v":-5.5,"lo":-3.5,"hi":3.5},{"k":"p","g":"RNASEL","s":"Human","v":-6,"lo":-3.5,"hi":3.5},
{"k":"p","g":"RNASEL","s":"Chimpanzee","v":5,"lo":-0.25,"hi":0.25},{"k":"p","g":"RNASEL","s":"Chimpanzee","v":4.5,"lo":-0.75,"hi":0.75},{"k":"p","g":"RNASEL","s":"Chimpanzee","v":4,"lo":-2,"hi":2},{"k":"p","g":"RNASEL","s":"Chimpanzee","v":3,"lo":-3.5,"hi":3.5},{"k":"p","g":"RNASEL","s":"Chimpanzee","v":2,"lo":-4,"hi":4},{"k":"p","g":"RNASEL","s":"Chimpanzee","v":1,"lo":-4,"hi":4},{"k":"p","g":"RNASEL","s":"Chimpanzee","v":0,"lo":-4.25,"hi":4.25},{"k":"p","g":"RNASEL","s":"Chimpanzee","v":-1,"lo":-4.25,"hi":4.25},{"k":"p","g":"RNASEL","s":"Chimpanzee","v":-2,"lo":-4.25,"hi":4.25},{"k":"p","g":"RNASEL","s":"Chimpanzee","v":-3,"lo":-4.25,"hi":4.25},{"k":"p","g":"RNASEL","s":"Chimpanzee","v":-4,"lo":-4.25,"hi":4.25},{"k":"p","g":"RNASEL","s":"Chimpanzee","v":-5,"lo":-4.25,"hi":4.25},{"k":"p","g":"RNASEL","s":"Chimpanzee","v":-5.5,"lo":-4,"hi":4},{"k":"p","g":"RNASEL","s":"Chimpanzee","v":-6,"lo":-4,"hi":4},
{"k":"p","g":"RNASEL","s":"Gorilla","v":5,"lo":-0.25,"hi":0.25},{"k":"p","g":"RNASEL","s":"Gorilla","v":4.5,"lo":-0.5,"hi":0.5},{"k":"p","g":"RNASEL","s":"Gorilla","v":4,"lo":-1.5,"hi":1.5},{"k":"p","g":"RNASEL","s":"Gorilla","v":3,"lo":-4,"hi":4},{"k":"p","g":"RNASEL","s":"Gorilla","v":2,"lo":-5.5,"hi":5.5},{"k":"p","g":"RNASEL","s":"Gorilla","v":1,"lo":-6,"hi":6},{"k":"p","g":"RNASEL","s":"Gorilla","v":0,"lo":-5.5,"hi":5.5},{"k":"p","g":"RNASEL","s":"Gorilla","v":-1,"lo":-4.5,"hi":4.5},{"k":"p","g":"RNASEL","s":"Gorilla","v":-2,"lo":-4,"hi":4},{"k":"p","g":"RNASEL","s":"Gorilla","v":-3,"lo":-3.75,"hi":3.75},{"k":"p","g":"RNASEL","s":"Gorilla","v":-4,"lo":-3.75,"hi":3.75},{"k":"p","g":"RNASEL","s":"Gorilla","v":-5,"lo":-3.75,"hi":3.75},{"k":"p","g":"RNASEL","s":"Gorilla","v":-5.5,"lo":-3.75,"hi":3.75},{"k":"p","g":"RNASEL","s":"Gorilla","v":-6,"lo":-3.75,"hi":3.75},
{"k":"p","g":"TMEM173","s":"Human","v":5,"lo":-0.25,"hi":0.25},{"k":"p","g":"TMEM173","s":"Human","v":4.5,"lo":-0.5,"hi":0.5},{"k":"p","g":"TMEM173","s":"Human","v":4,"lo":-1.5,"hi":1.5},{"k":"p","g":"TMEM173","s":"Human","v":3,"lo":-3,"hi":3},{"k":"p","g":"TMEM173","s":"Human","v":2,"lo":-4.5,"hi":4.5},{"k":"p","g":"TMEM173","s":"Human","v":1,"lo":-5.5,"hi":5.5},{"k":"p","g":"TMEM173","s":"Human","v":0,"lo":-6,"hi":6},{"k":"p","g":"TMEM173","s":"Human","v":-1,"lo":-5.5,"hi":5.5},{"k":"p","g":"TMEM173","s":"Human","v":-2,"lo":-4.5,"hi":4.5},{"k":"p","g":"TMEM173","s":"Human","v":-3,"lo":-4,"hi":4},{"k":"p","g":"TMEM173","s":"Human","v":-4,"lo":-4,"hi":4},{"k":"p","g":"TMEM173","s":"Human","v":-5,"lo":-4,"hi":4},{"k":"p","g":"TMEM173","s":"Human","v":-5.5,"lo":-4,"hi":4},{"k":"p","g":"TMEM173","s":"Human","v":-6,"lo":-4,"hi":4},
{"k":"p","g":"TMEM173","s":"Chimpanzee","v":5,"lo":-0.25,"hi":0.25},{"k":"p","g":"TMEM173","s":"Chimpanzee","v":4.5,"lo":-0.5,"hi":0.5},{"k":"p","g":"TMEM173","s":"Chimpanzee","v":4,"lo":-1,"hi":1},{"k":"p","g":"TMEM173","s":"Chimpanzee","v":3,"lo":-1.75,"hi":1.75},{"k":"p","g":"TMEM173","s":"Chimpanzee","v":2,"lo":-2,"hi":2},{"k":"p","g":"TMEM173","s":"Chimpanzee","v":1,"lo":-2.25,"hi":2.25},{"k":"p","g":"TMEM173","s":"Chimpanzee","v":0,"lo":-2.5,"hi":2.5},{"k":"p","g":"TMEM173","s":"Chimpanzee","v":-1,"lo":-2.75,"hi":2.75},{"k":"p","g":"TMEM173","s":"Chimpanzee","v":-2,"lo":-3.5,"hi":3.5},{"k":"p","g":"TMEM173","s":"Chimpanzee","v":-3,"lo":-5.5,"hi":5.5},{"k":"p","g":"TMEM173","s":"Chimpanzee","v":-4,"lo":-8,"hi":8},{"k":"p","g":"TMEM173","s":"Chimpanzee","v":-5,"lo":-8,"hi":8},{"k":"p","g":"TMEM173","s":"Chimpanzee","v":-5.5,"lo":-6,"hi":6},{"k":"p","g":"TMEM173","s":"Chimpanzee","v":-6,"lo":-3.5,"hi":3.5},
{"k":"p","g":"TMEM173","s":"Gorilla","v":5,"lo":-0.25,"hi":0.25},{"k":"p","g":"TMEM173","s":"Gorilla","v":4.5,"lo":-0.75,"hi":0.75},{"k":"p","g":"TMEM173","s":"Gorilla","v":4,"lo":-1.5,"hi":1.5},{"k":"p","g":"TMEM173","s":"Gorilla","v":3,"lo":-3.5,"hi":3.5},{"k":"p","g":"TMEM173","s":"Gorilla","v":2,"lo":-4.5,"hi":4.5},{"k":"p","g":"TMEM173","s":"Gorilla","v":1,"lo":-4.75,"hi":4.75},{"k":"p","g":"TMEM173","s":"Gorilla","v":0,"lo":-4.5,"hi":4.5},{"k":"p","g":"TMEM173","s":"Gorilla","v":-1,"lo":-4.25,"hi":4.25},{"k":"p","g":"TMEM173","s":"Gorilla","v":-2,"lo":-4,"hi":4},{"k":"p","g":"TMEM173","s":"Gorilla","v":-3,"lo":-4,"hi":4},{"k":"p","g":"TMEM173","s":"Gorilla","v":-4,"lo":-4,"hi":4},{"k":"p","g":"TMEM173","s":"Gorilla","v":-5,"lo":-4,"hi":4},{"k":"p","g":"TMEM173","s":"Gorilla","v":-5.5,"lo":-4,"hi":4},{"k":"p","g":"TMEM173","s":"Gorilla","v":-6,"lo":-4,"hi":4}
]
},
"vconcat":[
{
"width":661,"height":760,
"resolve":{"scale":{"x":"independent","y":"independent"}},
"layer":[
{
"data":{"name":"prim"},
"encoding":{
"x":{"field":"x","type":"quantitative","scale":{"domain":[-0.011932,0.363636],"nice":false,"zero":false},"axis":null},
"y":{"field":"y","type":"quantitative","scale":{"domain":[-2.444,23.0],"reverse":true,"nice":false,"zero":false},"axis":null}
},
"layer":[
{"transform":[{"filter":"datum.k === 's'"}],"mark":{"type":"rule"},"encoding":{"x2":{"field":"x2"},"y2":{"field":"y2"},
"color":{"field":"cat","type":"nominal","scale":{"domain":["purifying","positive","relaxed","intermediate","moderate","elevated","node"],"range":["#3B4FDB","#F22B2B","#8A4B60","#6C7D89","#6576B0","#5A6C98","#000000"]},"legend":null},
"strokeWidth":{"field":"w","type":"ordinal","scale":{"domain":["normal","bold"],"range":[1.8,5]},"legend":null}}},
{"transform":[{"filter":"datum.k === 'b'"}],"mark":{"type":"rule","color":"#000","strokeWidth":1.1},"encoding":{"x2":{"field":"x2"},"y2":{"field":"y2"}}},
{"transform":[{"filter":"datum.k === 'd'"}],"mark":{"type":"circle","color":"#F22222","size":44,"opacity":1}},
{"transform":[{"filter":"datum.k === 't'"}],"mark":{"type":"text","align":"left","baseline":"middle","dx":4.5,"fontSize":10.8,"font":"Liberation Sans","color":"#000"},"encoding":{"text":{"field":"label"}}},
{"transform":[{"filter":"datum.k === 'c'"}],"mark":{"type":"text","angle":90,"align":"center","baseline":"alphabetic","fontSize":11,"fontStyle":"italic","font":"Liberation Sans","color":"#000"},"encoding":{"text":{"field":"label"}}},
{"transform":[{"filter":"datum.k === 'sl'"}],"mark":{"type":"text","align":"left","baseline":"alphabetic","fontSize":9.5,"font":"Liberation Sans","color":"#000"},"encoding":{"text":{"field":"label"}}},
{"transform":[{"filter":"datum.k === 'pl'"}],"mark":{"type":"text","align":"left","baseline":"alphabetic","fontSize":15,"fontWeight":"bold","font":"Liberation Sans","color":"#000"},"encoding":{"text":{"field":"label"}}},
{"transform":[{"filter":"datum.k === 'h'"}],"mark":{"type":"text","align":"left","baseline":"alphabetic","fontSize":13.5,"font":"Liberation Sans","color":"#000"},"encoding":{"text":{"field":"label"}}}
]
},
{
"data":{"name":"bats"},
"encoding":{
"x":{"field":"x","type":"quantitative","scale":{"domain":[-0.005125,0.173186],"nice":false,"zero":false},"axis":null},
"y":{"field":"y","type":"quantitative","scale":{"domain":[-22.462,6.326],"reverse":true,"nice":false,"zero":false},"axis":null}
},
"layer":[
{"transform":[{"filter":"datum.k === 's'"}],"mark":{"type":"rule"},"encoding":{"x2":{"field":"x2"},"y2":{"field":"y2"},
"color":{"field":"cat","type":"nominal","scale":{"domain":["purifying","positive","relaxed","intermediate","moderate","elevated","node"],"range":["#3B4FDB","#F22B2B","#8A4B60","#6C7D89","#6576B0","#5A6C98","#000000"]},"legend":null},
"strokeWidth":{"field":"w","type":"ordinal","scale":{"domain":["normal","bold"],"range":[1.8,5]},"legend":null}}},
{"transform":[{"filter":"datum.k === 'b'"}],"mark":{"type":"rule","color":"#000","strokeWidth":1.1},"encoding":{"x2":{"field":"x2"},"y2":{"field":"y2"}}},
{"transform":[{"filter":"datum.k === 'd'"}],"mark":{"type":"circle","color":"#F22222","size":44,"opacity":1}},
{"transform":[{"filter":"datum.k === 't'"}],"mark":{"type":"text","align":"left","baseline":"middle","dx":4.5,"fontSize":10,"font":"Liberation Sans","color":"#000"},"encoding":{"text":{"field":"label"}}},
{"transform":[{"filter":"datum.k === 'c'"}],"mark":{"type":"text","align":"left","baseline":"middle","fontSize":10.8,"fontStyle":"italic","font":"Liberation Sans","color":"#000"},"encoding":{"text":{"field":"label"}}},
{"transform":[{"filter":"datum.k === 'sl'"}],"mark":{"type":"text","align":"left","baseline":"alphabetic","fontSize":9.3,"font":"Liberation Sans","color":"#000"},"encoding":{"text":{"field":"label"}}},
{"transform":[{"filter":"datum.k === 'h'"}],"mark":{"type":"text","align":"left","baseline":"alphabetic","fontSize":13,"font":"Liberation Sans","color":"#000"},"encoding":{"text":{"field":"label"}}}
]
}
]
},
{
"data":{"name":"vio"},
"title":{"text":"B","anchor":"start","fontSize":15,"fontWeight":"bold","dx":12,"offset":-7,"color":"#000"},
"spacing":0,
"hconcat":[
{"width":11.2,"height":112,"transform":[{"aggregate":[{"op":"count","as":"n"}]}],"mark":{"type":"rule","strokeDash":[1.5,2],"strokeWidth":1,"color":"#000"},"encoding":{"y":{"datum":0,"type":"quantitative","scale":{"domain":[-6,5],"nice":false},"axis":{"title":"γ","titleAngle":0,"titleFontSize":12,"titleFontWeight":"normal","titleColor":"#000","titlePadding":18,"titleY":51,"titleBaseline":"middle","values":[-6,-5,-4,-3,-2,-1,0,1,2,3,4,5],"labelExpr":"['-500','-100','-50','-10','-5','-1','0','1','5','10','50','100'][datum.value + 6]","labelAngle":-90,"labelAlign":"center","labelBaseline":"bottom","labelFontSize":6,"labelPadding":1.5,"labelColor":"#000","labelOverlap":false,"labelFlush":false,"tickSize":3,"tickColor":"#000","domainColor":"#000","grid":false}}}},
{"title":{"text":"OAS1","fontStyle":"italic","fontWeight":"normal","fontSize":11,"anchor":"middle","frame":"bounds","offset":8},
"transform":[{"filter":"datum.g === 'OAS1'"}],
"facet":{"column":{"field":"s","type":"nominal","sort":["Human","Chimpanzee","Gorilla"],"header":{"labels":false,"title":null}}},
"spacing":{"column":0},
"spec":{"width":24,"height":112,"layer":[
{"transform":[{"filter":"datum.k === 'box'"}],"mark":{"type":"rule","strokeDash":[1.5,2],"strokeWidth":1,"color":"#000"},"encoding":{"y":{"datum":0,"type":"quantitative","scale":{"domain":[-6,5],"nice":false},"axis":null}}},
{"transform":[{"filter":"datum.k === 'p'"}],"mark":{"type":"area","orient":"horizontal","stroke":"#000","strokeWidth":0.9,"interpolate":"monotone"},"encoding":{"y":{"field":"v","type":"quantitative","axis":null},"x":{"field":"lo","type":"quantitative","scale":{"domain":[-12,12],"nice":false,"zero":false},"axis":null},"x2":{"field":"hi"},"fill":{"field":"s","type":"nominal","scale":{"domain":["Human","Chimpanzee","Gorilla"],"range":["#7F9195","#D6DEDE","#FFFFFF"]},"legend":{"title":null,"orient":"none","legendX":17,"legendY":940.5,"symbolType":"square","symbolSize":115,"symbolStrokeColor":"#000","symbolStrokeWidth":1,"symbolOpacity":1,"labelFontSize":12.5,"labelFont":"Liberation Sans","labelColor":"#000","rowPadding":-2,"labelOffset":6,"direction":"vertical"}}}},
{"transform":[{"filter":"datum.k === 'box'"}],"mark":{"type":"rule","strokeWidth":4,"color":"#000"},"encoding":{"x":{"datum":0,"type":"quantitative","axis":null},"y":{"field":"q1","type":"quantitative","axis":null},"y2":{"field":"q3"}}},
{"transform":[{"filter":"datum.k === 'box'"}],"mark":{"type":"point","filled":true,"color":"#FFFFFF","size":16,"opacity":1},"encoding":{"x":{"datum":0,"type":"quantitative","axis":null},"y":{"field":"med","type":"quantitative","axis":null}}}
]}},
{"width":14.1,"height":112,"transform":[{"aggregate":[{"op":"count","as":"n"}]}],"mark":{"type":"rule","strokeDash":[1.5,2],"strokeWidth":1,"color":"#000"},"encoding":{"y":{"datum":0,"type":"quantitative","scale":{"domain":[-6,5],"nice":false},"axis":null}}},
{"title":{"text":"OAS2","fontStyle":"italic","fontWeight":"normal","fontSize":11,"anchor":"middle","frame":"bounds","offset":8},
"transform":[{"filter":"datum.g === 'OAS2'"}],
"facet":{"column":{"field":"s","type":"nominal","sort":["Human","Chimpanzee","Gorilla"],"header":{"labels":false,"title":null}}},
"spacing":{"column":0},
"spec":{"width":24,"height":112,"layer":[
{"transform":[{"filter":"datum.k === 'box'"}],"mark":{"type":"rule","strokeDash":[1.5,2],"strokeWidth":1,"color":"#000"},"encoding":{"y":{"datum":0,"type":"quantitative","scale":{"domain":[-6,5],"nice":false},"axis":null}}},
{"transform":[{"filter":"datum.k === 'p'"}],"mark":{"type":"area","orient":"horizontal","stroke":"#000","strokeWidth":0.9,"interpolate":"monotone"},"encoding":{"y":{"field":"v","type":"quantitative","axis":null},"x":{"field":"lo","type":"quantitative","scale":{"domain":[-12,12],"nice":false,"zero":false},"axis":null},"x2":{"field":"hi"},"fill":{"field":"s","type":"nominal","legend":null}}},
{"transform":[{"filter":"datum.k === 'box'"}],"mark":{"type":"rule","strokeWidth":4,"color":"#000"},"encoding":{"x":{"datum":0,"type":"quantitative","axis":null},"y":{"field":"q1","type":"quantitative","axis":null},"y2":{"field":"q3"}}},
{"transform":[{"filter":"datum.k === 'box'"}],"mark":{"type":"point","filled":true,"color":"#FFFFFF","size":16,"opacity":1},"encoding":{"x":{"datum":0,"type":"quantitative","axis":null},"y":{"field":"med","type":"quantitative","axis":null}}}
]}},
{"width":14.1,"height":112,"transform":[{"aggregate":[{"op":"count","as":"n"}]}],"mark":{"type":"rule","strokeDash":[1.5,2],"strokeWidth":1,"color":"#000"},"encoding":{"y":{"datum":0,"type":"quantitative","scale":{"domain":[-6,5],"nice":false},"axis":null}}},
{"title":{"text":"OAS3","fontStyle":"italic","fontWeight":"normal","fontSize":11,"anchor":"middle","frame":"bounds","offset":8},
"transform":[{"filter":"datum.g === 'OAS3'"}],
"facet":{"column":{"field":"s","type":"nominal","sort":["Human","Chimpanzee","Gorilla"],"header":{"labels":false,"title":null}}},
"spacing":{"column":0},
"spec":{"width":24,"height":112,"layer":[
{"transform":[{"filter":"datum.k === 'box'"}],"mark":{"type":"rule","strokeDash":[1.5,2],"strokeWidth":1,"color":"#000"},"encoding":{"y":{"datum":0,"type":"quantitative","scale":{"domain":[-6,5],"nice":false},"axis":null}}},
{"transform":[{"filter":"datum.k === 'p'"}],"mark":{"type":"area","orient":"horizontal","stroke":"#000","strokeWidth":0.9,"interpolate":"monotone"},"encoding":{"y":{"field":"v","type":"quantitative","axis":null},"x":{"field":"lo","type":"quantitative","scale":{"domain":[-12,12],"nice":false,"zero":false},"axis":null},"x2":{"field":"hi"},"fill":{"field":"s","type":"nominal","legend":null}}},
{"transform":[{"filter":"datum.k === 'box'"}],"mark":{"type":"rule","strokeWidth":4,"color":"#000"},"encoding":{"x":{"datum":0,"type":"quantitative","axis":null},"y":{"field":"q1","type":"quantitative","axis":null},"y2":{"field":"q3"}}},
{"transform":[{"filter":"datum.k === 'box'"}],"mark":{"type":"point","filled":true,"color":"#FFFFFF","size":16,"opacity":1},"encoding":{"x":{"datum":0,"type":"quantitative","axis":null},"y":{"field":"med","type":"quantitative","axis":null}}}
]}},
{"width":14.1,"height":112,"transform":[{"aggregate":[{"op":"count","as":"n"}]}],"mark":{"type":"rule","strokeDash":[1.5,2],"strokeWidth":1,"color":"#000"},"encoding":{"y":{"datum":0,"type":"quantitative","scale":{"domain":[-6,5],"nice":false},"axis":null}}},
{"title":{"text":"OASL","fontStyle":"italic","fontWeight":"normal","fontSize":11,"anchor":"middle","frame":"bounds","offset":8},
"transform":[{"filter":"datum.g === 'OASL'"}],
"facet":{"column":{"field":"s","type":"nominal","sort":["Human","Chimpanzee","Gorilla"],"header":{"labels":false,"title":null}}},
"spacing":{"column":0},
"spec":{"width":24,"height":112,"layer":[
{"transform":[{"filter":"datum.k === 'box'"}],"mark":{"type":"rule","strokeDash":[1.5,2],"strokeWidth":1,"color":"#000"},"encoding":{"y":{"datum":0,"type":"quantitative","scale":{"domain":[-6,5],"nice":false},"axis":null}}},
{"transform":[{"filter":"datum.k === 'p'"}],"mark":{"type":"area","orient":"horizontal","stroke":"#000","strokeWidth":0.9,"interpolate":"monotone"},"encoding":{"y":{"field":"v","type":"quantitative","axis":null},"x":{"field":"lo","type":"quantitative","scale":{"domain":[-12,12],"nice":false,"zero":false},"axis":null},"x2":{"field":"hi"},"fill":{"field":"s","type":"nominal","legend":null}}},
{"transform":[{"filter":"datum.k === 'box'"}],"mark":{"type":"rule","strokeWidth":4,"color":"#000"},"encoding":{"x":{"datum":0,"type":"quantitative","axis":null},"y":{"field":"q1","type":"quantitative","axis":null},"y2":{"field":"q3"}}},
{"transform":[{"filter":"datum.k === 'box'"}],"mark":{"type":"point","filled":true,"color":"#FFFFFF","size":16,"opacity":1},"encoding":{"x":{"datum":0,"type":"quantitative","axis":null},"y":{"field":"med","type":"quantitative","axis":null}}}
]}},
{"width":14.1,"height":112,"transform":[{"aggregate":[{"op":"count","as":"n"}]}],"mark":{"type":"rule","strokeDash":[1.5,2],"strokeWidth":1,"color":"#000"},"encoding":{"y":{"datum":0,"type":"quantitative","scale":{"domain":[-6,5],"nice":false},"axis":null}}},
{"title":{"text":"MB21D1","fontStyle":"italic","fontWeight":"normal","fontSize":11,"anchor":"middle","frame":"bounds","offset":8},
"transform":[{"filter":"datum.g === 'MB21D1'"}],
"facet":{"column":{"field":"s","type":"nominal","sort":["Human","Chimpanzee","Gorilla"],"header":{"labels":false,"title":null}}},
"spacing":{"column":0},
"spec":{"width":24,"height":112,"layer":[
{"transform":[{"filter":"datum.k === 'box'"}],"mark":{"type":"rule","strokeDash":[1.5,2],"strokeWidth":1,"color":"#000"},"encoding":{"y":{"datum":0,"type":"quantitative","scale":{"domain":[-6,5],"nice":false},"axis":null}}},
{"transform":[{"filter":"datum.k === 'p'"}],"mark":{"type":"area","orient":"horizontal","stroke":"#000","strokeWidth":0.9,"interpolate":"monotone"},"encoding":{"y":{"field":"v","type":"quantitative","axis":null},"x":{"field":"lo","type":"quantitative","scale":{"domain":[-12,12],"nice":false,"zero":false},"axis":null},"x2":{"field":"hi"},"fill":{"field":"s","type":"nominal","legend":null}}},
{"transform":[{"filter":"datum.k === 'box'"}],"mark":{"type":"rule","strokeWidth":4,"color":"#000"},"encoding":{"x":{"datum":0,"type":"quantitative","axis":null},"y":{"field":"q1","type":"quantitative","axis":null},"y2":{"field":"q3"}}},
{"transform":[{"filter":"datum.k === 'box'"}],"mark":{"type":"point","filled":true,"color":"#FFFFFF","size":16,"opacity":1},"encoding":{"x":{"datum":0,"type":"quantitative","axis":null},"y":{"field":"med","type":"quantitative","axis":null}}}
]}},
{"width":14.1,"height":112,"transform":[{"aggregate":[{"op":"count","as":"n"}]}],"mark":{"type":"rule","strokeDash":[1.5,2],"strokeWidth":1,"color":"#000"},"encoding":{"y":{"datum":0,"type":"quantitative","scale":{"domain":[-6,5],"nice":false},"axis":null}}},
{"title":{"text":"RNASEL","fontStyle":"italic","fontWeight":"normal","fontSize":11,"anchor":"middle","frame":"bounds","offset":8},
"transform":[{"filter":"datum.g === 'RNASEL'"}],
"facet":{"column":{"field":"s","type":"nominal","sort":["Human","Chimpanzee","Gorilla"],"header":{"labels":false,"title":null}}},
"spacing":{"column":0},
"spec":{"width":24,"height":112,"layer":[
{"transform":[{"filter":"datum.k === 'box'"}],"mark":{"type":"rule","strokeDash":[1.5,2],"strokeWidth":1,"color":"#000"},"encoding":{"y":{"datum":0,"type":"quantitative","scale":{"domain":[-6,5],"nice":false},"axis":null}}},
{"transform":[{"filter":"datum.k === 'p'"}],"mark":{"type":"area","orient":"horizontal","stroke":"#000","strokeWidth":0.9,"interpolate":"monotone"},"encoding":{"y":{"field":"v","type":"quantitative","axis":null},"x":{"field":"lo","type":"quantitative","scale":{"domain":[-12,12],"nice":false,"zero":false},"axis":null},"x2":{"field":"hi"},"fill":{"field":"s","type":"nominal","legend":null}}},
{"transform":[{"filter":"datum.k === 'box'"}],"mark":{"type":"rule","strokeWidth":4,"color":"#000"},"encoding":{"x":{"datum":0,"type":"quantitative","axis":null},"y":{"field":"q1","type":"quantitative","axis":null},"y2":{"field":"q3"}}},
{"transform":[{"filter":"datum.k === 'box'"}],"mark":{"type":"point","filled":true,"color":"#FFFFFF","size":16,"opacity":1},"encoding":{"x":{"datum":0,"type":"quantitative","axis":null},"y":{"field":"med","type":"quantitative","axis":null}}}
]}},
{"width":14.1,"height":112,"transform":[{"aggregate":[{"op":"count","as":"n"}]}],"mark":{"type":"rule","strokeDash":[1.5,2],"strokeWidth":1,"color":"#000"},"encoding":{"y":{"datum":0,"type":"quantitative","scale":{"domain":[-6,5],"nice":false},"axis":null}}},
{"title":{"text":"TMEM173","fontStyle":"italic","fontWeight":"normal","fontSize":11,"anchor":"middle","frame":"bounds","offset":8},
"transform":[{"filter":"datum.g === 'TMEM173'"}],
"facet":{"column":{"field":"s","type":"nominal","sort":["Human","Chimpanzee","Gorilla"],"header":{"labels":false,"title":null}}},
"spacing":{"column":0},
"spec":{"width":24,"height":112,"layer":[
{"transform":[{"filter":"datum.k === 'box'"}],"mark":{"type":"rule","strokeDash":[1.5,2],"strokeWidth":1,"color":"#000"},"encoding":{"y":{"datum":0,"type":"quantitative","scale":{"domain":[-6,5],"nice":false},"axis":null}}},
{"transform":[{"filter":"datum.k === 'p'"}],"mark":{"type":"area","orient":"horizontal","stroke":"#000","strokeWidth":0.9,"interpolate":"monotone"},"encoding":{"y":{"field":"v","type":"quantitative","axis":null},"x":{"field":"lo","type":"quantitative","scale":{"domain":[-12,12],"nice":false,"zero":false},"axis":null},"x2":{"field":"hi"},"fill":{"field":"s","type":"nominal","legend":null}}},
{"transform":[{"filter":"datum.k === 'box'"}],"mark":{"type":"rule","strokeWidth":4,"color":"#000"},"encoding":{"x":{"datum":0,"type":"quantitative","axis":null},"y":{"field":"q1","type":"quantitative","axis":null},"y2":{"field":"q3"}}},
{"transform":[{"filter":"datum.k === 'box'"}],"mark":{"type":"point","filled":true,"color":"#FFFFFF","size":16,"opacity":1},"encoding":{"x":{"datum":0,"type":"quantitative","axis":null},"y":{"field":"med","type":"quantitative","axis":null}}}
]}},
{"width":6,"height":112,"transform":[{"aggregate":[{"op":"count","as":"n"}]}],"mark":{"type":"rule","strokeDash":[1.5,2],"strokeWidth":1,"color":"#000"},"encoding":{"y":{"datum":0,"type":"quantitative","scale":{"domain":[-6,5],"nice":false},"axis":null}}}
]
}
],
"config":{"view":{"stroke":null},"font":"Liberation Sans","title":{"font":"Liberation Sans","color":"#000"}}
}
